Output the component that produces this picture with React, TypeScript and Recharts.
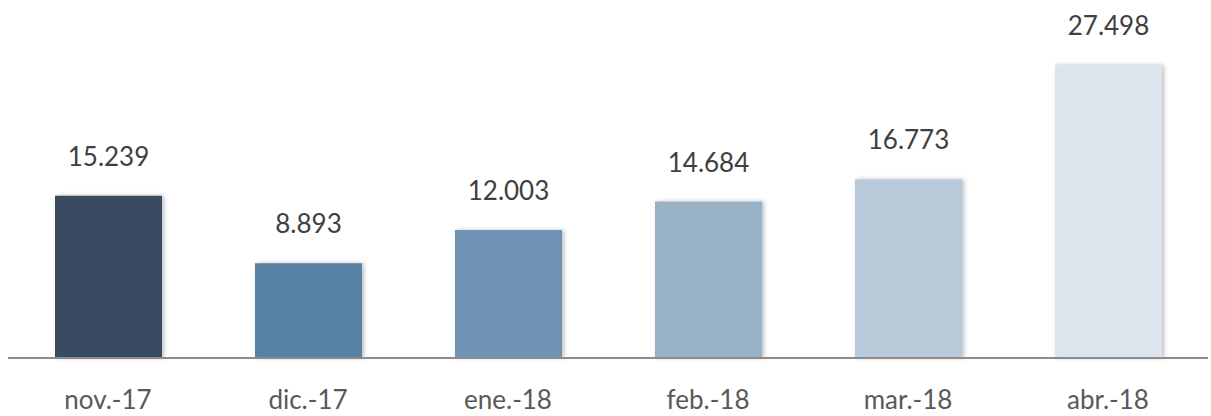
import { BarChart, Bar, XAxis, YAxis, Cell, LabelList } from "recharts"

const months = ["nov.-17", "dic.-17", "ene.-18", "feb.-18", "mar.-18", "abr.-18"]
const values = [15239, 8893, 12003, 14684, 16773, 27498]
const colors = ["#374C61", "#5782A6", "#6F94B3", "#98B2C8", "#B8CAD9", "#DCE5EE"]

const data = months.map((m, i) => ({ name: m, value: values[i] }))

// thousands with a dot, like the source
const fmt = (v: number) => String(v).replace(/\B(?=(\d{3})+(?!\d))/g, ".")

const App = () => {
    return (
        <div style={{ position: "absolute", left: 0, top: 0, width: 1211, height: 416, background: "#fff", fontFamily: "Lato, 'Open Sans', sans-serif" }}>
            <BarChart width={1211} height={416} data={data} margin={{ top: 0, right: 3, left: 8, bottom: 0 }}>
                <defs>
                    <filter id="barShadow" x="-10%" y="-10%" width="120%" height="120%">
                        <feDropShadow dx="2" dy="0" stdDeviation="2" floodColor="#000" floodOpacity="0.25" />
                    </filter>
                </defs>
                <XAxis
                    dataKey="name"
                    height={58}
                    tickLine={false}
                    tickSize={0}
                    tickMargin={33}
                    axisLine={{ stroke: "#8C8C8C", strokeWidth: 2 }}
                    tick={{ fill: "#595959", fontSize: 26 }}
                    interval={0}
                />
                <YAxis hide domain={[0, 33600]} />
                <Bar dataKey="value" barSize={107} isAnimationActive={false} filter="url(#barShadow)">
                    {data.map((d, i) => (
                        <Cell key={d.name} fill={colors[i]} />
                    ))}
                    <LabelList
                        dataKey="value"
                        position="top"
                        offset={30}
                        formatter={(v: any) => fmt(Number(v))}
                        style={{ fill: "#404040", fontSize: 26 }}
                    />
                </Bar>
            </BarChart>
        </div>
    )
}

export default App
